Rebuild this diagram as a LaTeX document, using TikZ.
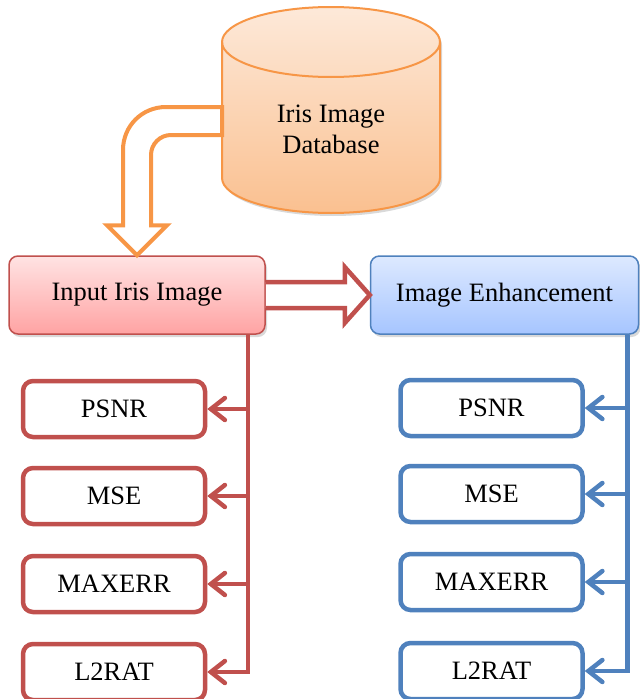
\documentclass[tikz,border=0pt]{standalone}
\usepackage{fontspec}
\setmainfont{Liberation Serif}
\usetikzlibrary{arrows.meta,calc,shadows}
\definecolor{irisred}{HTML}{C0504D}
\definecolor{irisblue}{HTML}{4F81BD}
\definecolor{irisorange}{HTML}{F79646}
\definecolor{dbtop}{HTML}{FDE9D9}
\definecolor{dbbottom}{HTML}{FAC090}
\definecolor{inputtop}{HTML}{FFE3E3}
\definecolor{inputbottom}{HTML}{FFA3A3}
\definecolor{enhtop}{HTML}{DDE9FF}
\definecolor{enhbottom}{HTML}{A6C5FF}

\begin{document}
\begin{tikzpicture}
[x=1pt, y=-1pt,
every node/.style={font=\fontsize{26.5}{31}\selectfont},
soft shadow/.style={drop shadow={opacity=0.3, shadow xshift=2pt, shadow yshift=-3pt}},
database/.style={draw=irisorange, line width=2pt, top color=dbtop, bottom color=dbbottom, soft shadow},
database rim/.style={draw=irisorange, line width=2pt},
input/.style={draw=irisred, line width=1.5pt, rounded corners=9pt, minimum width=256pt, minimum height=78pt, top color=inputtop, bottom color=inputbottom, soft shadow},
enhance/.style={draw=irisblue, line width=1.5pt, rounded corners=9pt, minimum width=268pt, minimum height=78pt, top color=enhtop, bottom color=enhbottom, soft shadow},
metric red/.style={draw=irisred, fill=white, line width=4.5pt, rounded corners=10pt, minimum width=182pt, minimum height=56pt},
metric blue/.style={draw=irisblue, fill=white, line width=4.5pt, rounded corners=10pt, minimum width=182pt, minimum height=56pt},
link red/.style={irisred, line width=4.5pt, -{Straight Barb[length=14pt, width=22pt, line cap=round]}},
link blue/.style={irisblue, line width=4.5pt, -{Straight Barb[length=14pt, width=22pt, line cap=round]}},
hollow red/.style={draw=irisred, fill=white, line width=4.5pt, line join=miter},
hollow orange/.style={draw=irisorange, fill=white, line width=4pt, line join=miter}]
\useasboundingbox (0,0) rectangle (640,699);
\draw[database] (222,42) -- (222,178) .. controls (222,197.3) and (270.8,213) .. (331,213) .. controls (391.2,213) and (440,197.3) .. (440,178) -- (440,42) .. controls (440,22.7) and (391.2,7) .. (331,7) .. controls (270.8,7) and (222,22.7) .. (222,42) -- cycle;
\draw[database rim] (222,42) .. controls (222,61.3) and (270.8,77) .. (331,77) .. controls (391.2,77) and (440,61.3) .. (440,42);
\coordinate (dbside) at (222,110);
\node[align=center] (db) at (331,129) {Iris Image\\Database};
\node[input] (in) at (137,295) {Input Iris Image};
\node[enhance] (enh) at (504.5,295) {Image Enhancement};
\node[metric red] (psnrA) at (114,409) {PSNR};
\node[metric red] (mseA) at (114,496) {MSE};
\node[metric red] (maxerrA) at (114,584) {MAXERR};
\node[metric red] (ratA) at (114,672) {L2RAT};
\node[metric blue] (psnrB) at (491.5,408) {PSNR};
\node[metric blue] (mseB) at (491.5,494) {MSE};
\node[metric blue] (maxerrB) at (491.5,582) {MAXERR};
\node[metric blue] (ratB) at (491.5,671) {L2RAT};
\coordinate (ta) at ([yshift=3pt]dbside);
\coordinate (tb) at ([yshift=-25pt]dbside);
\coordinate (sa) at ([xshift=-14pt]in.north);
\coordinate (sb) at ([xshift=14pt]in.north);
\draw[hollow orange] (ta) -- ($(sa|-ta)+(43,0)$) .. controls ($(sa|-ta)+(19,0)$) and ($(sa|-ta)+(0,19)$) .. ($(sa|-ta)+(0,43)$) -- ($(sa)+(0,-30)$) -- ($(in.north)+(-30,-30)$) -- (in.north) -- ($(in.north)+(30,-30)$) -- ($(sb)+(0,-30)$) -- ($(sb|-tb)+(0,20)$) .. controls ($(sb|-tb)+(0,9)$) and ($(sb|-tb)+(9,0)$) .. ($(sb|-tb)+(20,0)$) -- (tb) -- cycle;
\draw[hollow red] ([yshift=13pt]in.east) -- ([xshift=-25pt,yshift=13pt]enh.west) -- ([xshift=-25pt,yshift=28pt]enh.west) -- (enh.west) -- ([xshift=-25pt,yshift=-28pt]enh.west) -- ([xshift=-25pt,yshift=-13pt]enh.west) -- ([yshift=-13pt]in.east);
\coordinate (trunkA) at ([xshift=-18pt]in.south east);
\coordinate (trunkB) at ([xshift=-12pt]enh.south east);
\draw[link red] (trunkA) |- (ratA.east);
\draw[link red] (trunkA |- psnrA.east) -- (psnrA.east);
\draw[link red] (trunkA |- mseA.east) -- (mseA.east);
\draw[link red] (trunkA |- maxerrA.east) -- (maxerrA.east);
\draw[link blue] (trunkB) |- (ratB.east);
\draw[link blue] (trunkB |- psnrB.east) -- (psnrB.east);
\draw[link blue] (trunkB |- mseB.east) -- (mseB.east);
\draw[link blue] (trunkB |- maxerrB.east) -- (maxerrB.east);
\end{tikzpicture}
\end{document}
